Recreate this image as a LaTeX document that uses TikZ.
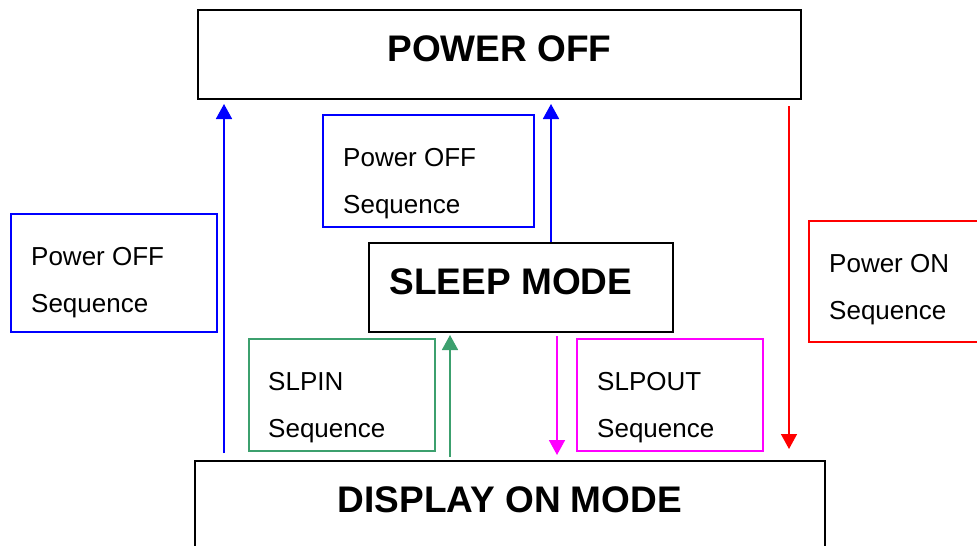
\documentclass[tikz,border=0pt]{standalone}
\usepackage{fontspec}
\setmainfont{Liberation Sans}
\usetikzlibrary{arrows.meta, calc}

\definecolor{seqgreen}{RGB}{60,160,110}
\definecolor{seqmagenta}{RGB}{255,0,255}

\tikzset{
  statebox/.style={draw, line width=2pt, inner sep=0pt, anchor=north west,
    minimum height=89, text height=51pt, text depth=38pt,
    font=\fontsize{37}{44}\selectfont\bfseries},
  seqbox/.style={draw=#1, line width=2pt, anchor=north west},
  seqtext/.style={anchor=north west, align=left, inner sep=0pt,
    font=\fontsize{26}{47.5}\selectfont},
  arr/.style={draw=#1, line width=1.8pt, -{Triangle[length=15pt, width=16pt]}}
}

\begin{document}
\begin{tikzpicture}[x=1pt, y=-1pt]
    \useasboundingbox (0,0) rectangle (977,546);
    \clip (0,0) rectangle (977,546);

    % modes
    \node[statebox, minimum width=603] (poweroff) at (197,9) {POWER OFF};
    \node[statebox, minimum width=304] (sleep) at (368,242) {SLEEP MODE\hspace*{20pt}};
    \node[statebox, minimum width=630] (disp) at (194,460) {DISPLAY ON MODE};

    % sequence boxes
    \node[seqbox=blue, minimum width=206, minimum height=118] (offseqL) at (10,213) {};
    \node[seqbox=blue, minimum width=211, minimum height=112] (offseqT) at (322,114) {};
    \node[seqbox=seqgreen, minimum width=186, minimum height=112] (slpin) at (248,338) {};
    \node[seqbox=seqmagenta, minimum width=186, minimum height=112] (slpout) at (576,338) {};
    \node[seqbox=red, minimum width=200, minimum height=121] (onseq) at (808,220) {};

    \node[seqtext] (offseqLtxt) at ([shift={(21,34)}]offseqL.north west) {Power OFF\\Sequence};
    \node[seqtext] (offseqTtxt) at ([shift={(21,34)}]offseqT.north west) {Power OFF\\Sequence};
    \node[seqtext] (slpintxt) at ([shift={(20,34)}]slpin.north west) {SLPIN\\Sequence};
    \node[seqtext] (slpouttxt) at ([shift={(21,34)}]slpout.north west) {SLPOUT\\Sequence};
    \node[seqtext] (onseqtxt) at ([shift={(21,34)}]onseq.north west) {Power ON\\Sequence};

    % arrows
    \coordinate (xL) at (224,0);
    \coordinate (xT) at (551,0);
    \coordinate (xG) at (450,0);
    \coordinate (xM) at (557,0);
    \coordinate (xR) at (789,0);

    \draw[arr=blue, shorten <=7pt, shorten >=4pt] (disp.north -| xL) -- (poweroff.south -| xL);
    \draw[arr=blue, shorten >=4pt] (sleep.north -| xT) -- (poweroff.south -| xT);
    \draw[arr=seqgreen, shorten <=3pt, shorten >=2pt] (disp.north -| xG) -- (sleep.south -| xG);
    \draw[arr=seqmagenta, shorten <=3pt, shorten >=5pt] (sleep.south -| xM) -- (disp.north -| xM);
    \draw[arr=red, line width=1.5pt, shorten <=6pt, shorten >=11pt] (poweroff.south -| xR) -- (disp.north -| xR);
\end{tikzpicture}
\end{document}
